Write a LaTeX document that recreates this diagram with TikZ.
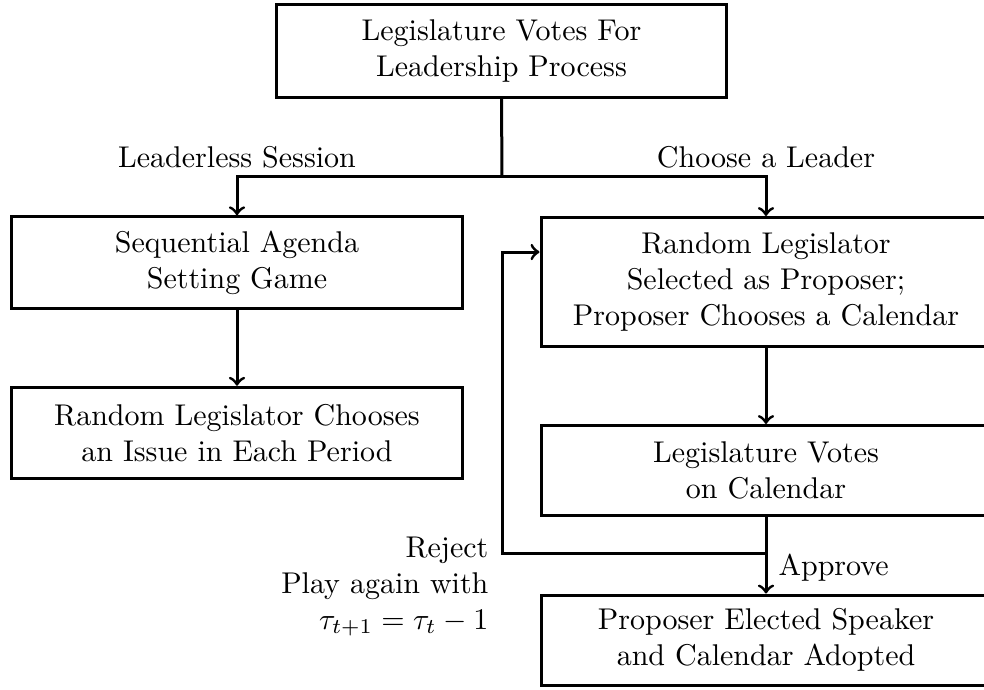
\documentclass[tikz,border=0pt]{standalone}
\usetikzlibrary{calc}
\begin{document}
\begin{tikzpicture}[x=0.33333pt,y=-0.33333pt,
  box/.style={draw,line width=1pt,align=center,inner sep=0pt,minimum width=150pt},
  lbl/.style={inner sep=0pt},
  conn/.style={line width=1pt},
  >=to]
\clip (0,0) rectangle (984,689);
\node[box,minimum height=31pt] (top) at (501.5,51) {Legislature Votes For\\Leadership Process};
\node[box,minimum height=30.5pt] (l1) at (237,262.5) {Sequential Agenda\\Setting Game};
\node[box,minimum height=30.5pt] (l2) at (237,433) {Random Legislator Chooses\\an Issue in Each Period};
\node[box,minimum height=43pt] (r1) at (766,282) {Random Legislator\\Selected as Proposer;\\Proposer Chooses a Calendar};
\node[box,minimum height=30pt] (r2) at (766,470.5) {Legislature Votes\\on Calendar};
\node[box,minimum height=30pt] (r3) at (766,640) {Proposer Elected Speaker\\and Calendar Adopted};
\node[lbl] (ls) at (237,157) {Leaderless Session};
\node[lbl] (cl) at (766,157) {Choose a Leader};
\node[lbl,anchor=west] (ap) at (778,568) {Approve};
\node[lbl,anchor=north east,align=right] (rjt) at (489,536) {Reject\\Play again with\\$\tau_{t+1}=\tau_t-1$};
\coordinate (jn) at (502,176);
\coordinate (rj) at (766,553);
\coordinate (lp) at (502,553);
\coordinate (fb) at (502,252);
\draw[conn] (top.south) -- (jn);
\draw[conn,->] (jn) -| (l1.north);
\draw[conn,->] (jn) -| (r1.north);
\draw[conn,->] (l1.south) -- (l2.north);
\draw[conn,->] (r1.south) -- (r2.north);
\draw[conn,->] (r2.south) -- (r3.north);
\draw[conn,->] (rj) -- (lp) -- (fb) -- (fb -| r1.west);
\end{tikzpicture}
\end{document}
